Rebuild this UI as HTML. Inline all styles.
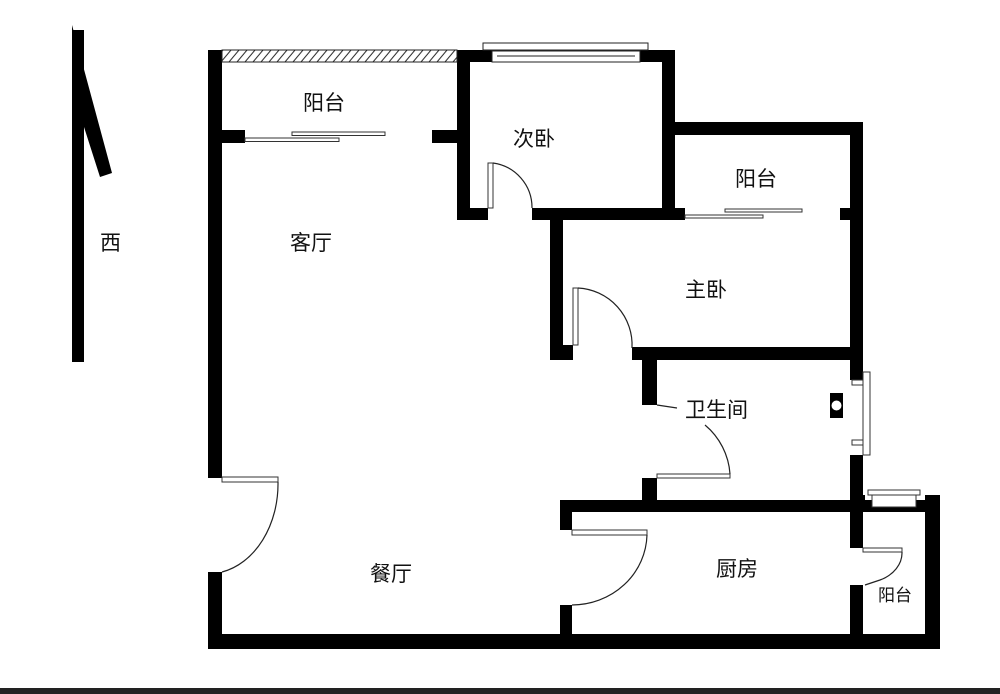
<!DOCTYPE html>
<html><head><meta charset="utf-8"><style>
html,body{margin:0;padding:0;background:#fff;}
svg{display:block;}
text{font-family:"Liberation Sans","Noto Sans CJK SC",sans-serif;fill:#111;}
</style></head><body>
<svg width="1000" height="694" viewBox="0 0 1000 694" xmlns="http://www.w3.org/2000/svg">
<defs>
<pattern id="h" width="8" height="12" patternUnits="userSpaceOnUse" patternTransform="skewX(-40)">
<rect width="8" height="12" fill="#fff"/><line x1="1" y1="0" x2="1" y2="12" stroke="#222" stroke-width="1.3"/>
</pattern>
</defs>
<rect width="1000" height="694" fill="#fff"/>
<!-- arrow -->
<rect x="72" y="30" width="12" height="332" fill="#000"/>
<polygon points="72,25 112,173 100,177 84,127 72,127" fill="#000"/>
<text x="100" y="250" font-size="21">西</text>
<g fill="#000">
<rect x="208" y="50" width="14" height="428"/>
<rect x="208" y="572" width="14" height="77"/>
<rect x="208" y="634" width="732" height="15"/>
<rect x="222" y="130" width="23" height="13"/>
<rect x="432" y="130" width="25" height="13"/>
<rect x="457" y="50" width="13" height="170"/>
<rect x="457" y="50" width="218" height="12"/>
<rect x="662" y="50" width="13" height="170"/>
<rect x="457" y="208" width="31" height="12"/>
<rect x="532" y="208" width="153" height="12"/>
<rect x="662" y="122" width="200" height="13"/>
<rect x="850" y="122" width="13" height="258"/>
<rect x="840" y="208" width="12" height="12"/>
<rect x="550" y="208" width="13" height="152"/>
<rect x="550" y="345" width="23" height="15"/>
<rect x="632" y="347" width="231" height="13"/>
<rect x="642" y="360" width="15" height="45"/>
<rect x="642" y="478" width="15" height="24"/>
<rect x="850" y="455" width="13" height="93"/>
<rect x="830" y="393" width="13" height="25"/>
<rect x="560" y="500" width="380" height="12"/>
<rect x="560" y="500" width="12" height="30"/>
<rect x="560" y="605" width="12" height="44"/>
<rect x="850" y="585" width="13" height="64"/>
<rect x="925" y="495" width="15" height="154"/>
<rect x="850" y="495" width="15" height="17"/>
</g>
<circle cx="836.5" cy="405.5" r="5" fill="#fff"/>
<rect x="222" y="50" width="235" height="12" fill="url(#h)" stroke="#222" stroke-width="1"/>
<rect x="483" y="43" width="165" height="7" fill="#fff" stroke="#222" stroke-width="1"/>
<rect x="492" y="51" width="148" height="11" fill="#fff" stroke="#222" stroke-width="1"/>
<line x1="497" y1="56" x2="635" y2="56" stroke="#222" stroke-width="1"/>
<g fill="#fff" stroke="#333" stroke-width="1">
<rect x="292" y="132" width="93" height="3.5"/>
<rect x="245" y="138" width="94" height="3.5"/>
<rect x="725" y="209" width="77" height="3"/>
<rect x="685" y="215" width="78" height="3"/>
<rect x="488" y="163" width="5" height="45"/>
<rect x="573" y="288" width="5" height="57"/>
<rect x="657" y="474" width="73" height="4"/>
<rect x="572" y="530" width="75" height="5"/>
<rect x="222" y="477" width="56" height="5"/>
<rect x="863" y="548" width="39" height="4"/>
<rect x="863" y="372" width="7" height="83"/>
<rect x="852" y="380" width="11" height="5"/>
<rect x="852" y="440" width="11" height="5"/>
<rect x="868" y="490" width="52" height="5"/>
<rect x="872" y="495" width="44" height="12"/>
</g>
<g fill="none" stroke="#222" stroke-width="1.2">
<path d="M493,163 A45,45 0 0 1 532,208"/>
<path d="M578,288 A57,57 0 0 1 632,348"/>
<path d="M657,405 L677,408"/>
<path d="M705,425 A70,70 0 0 1 730,474"/>
<path d="M278,482 A70,90 0 0 1 222,572"/>
<path d="M647,535 A75,72 0 0 1 572,605"/>
<path d="M902,552 A38,30 0 0 1 880,580 L865,585"/>
</g>
<g font-size="21">
<text x="303" y="110">阳台</text>
<text x="513" y="146">次卧</text>
<text x="735" y="186">阳台</text>
<text x="290" y="250">客厅</text>
<text x="685" y="297">主卧</text>
<text x="685" y="417">卫生间</text>
<text x="370" y="581">餐厅</text>
<text x="716" y="576">厨房</text>
</g>
<text x="878" y="601" font-size="17">阳台</text>
<rect x="0" y="688" width="1000" height="6" fill="#222"/>
</svg>
</body></html>
